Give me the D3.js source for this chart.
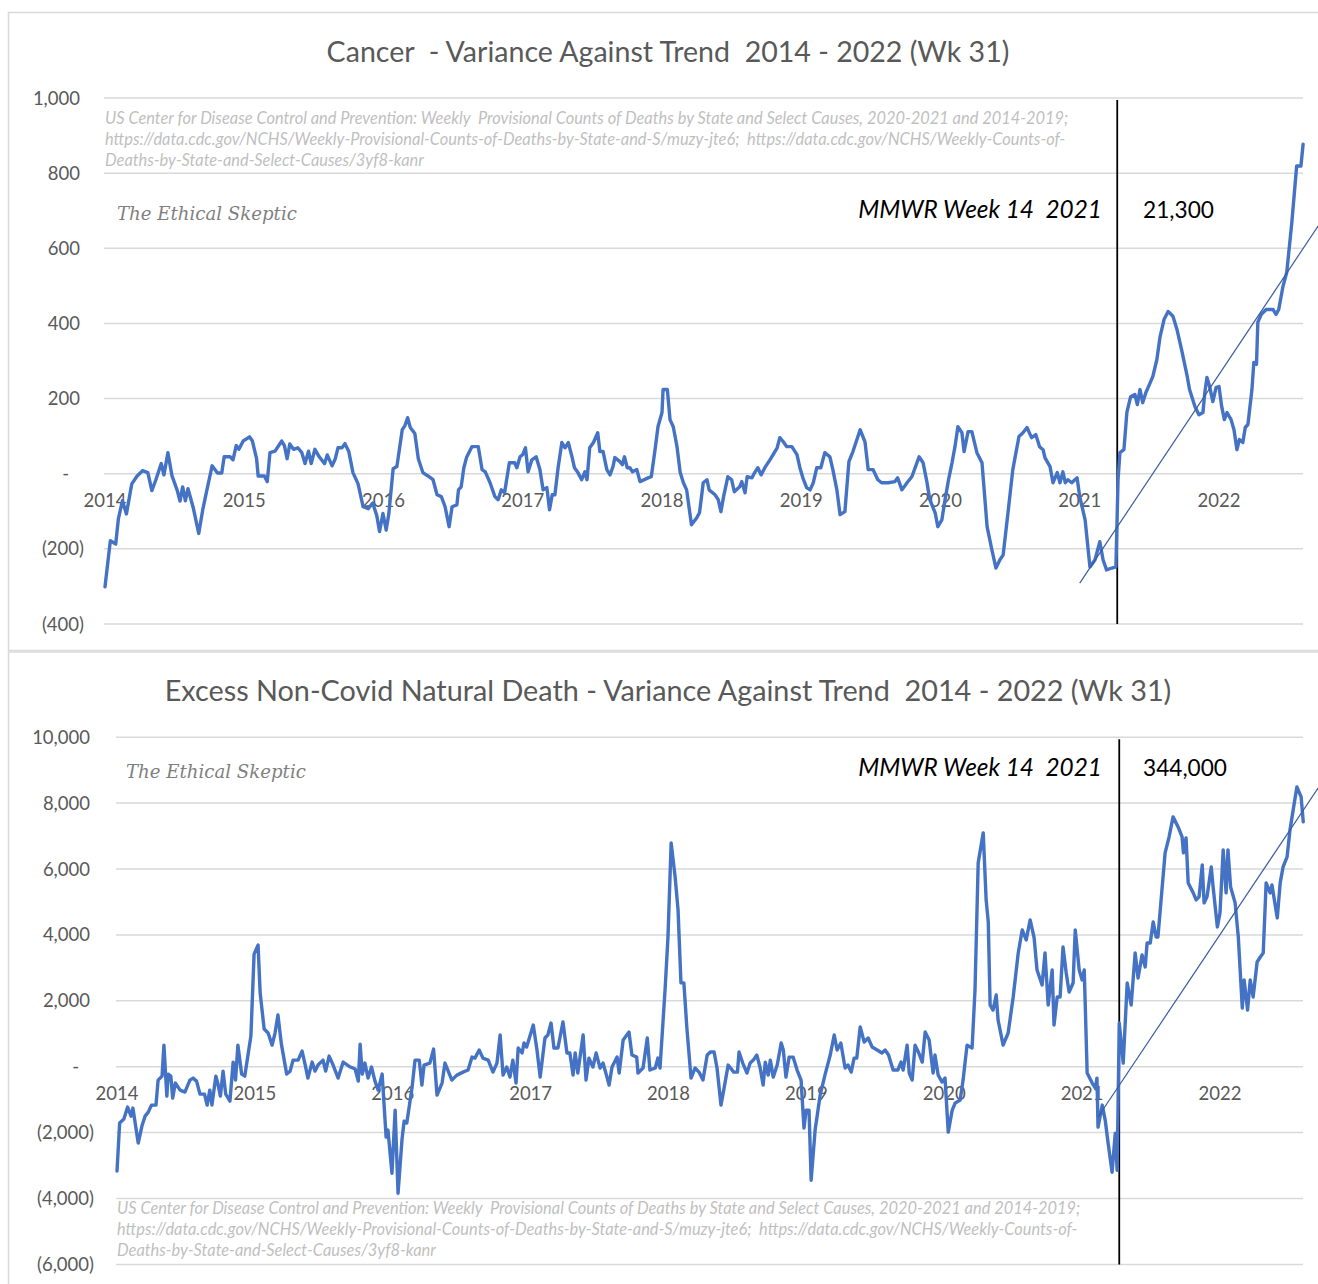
<!DOCTYPE html>
<html><head><meta charset="utf-8">
<script src="https://cdn.jsdelivr.net/npm/d3@7"></script>
<style>html,body{margin:0;padding:0;background:#fff;overflow:hidden} text{white-space:pre}</style>
</head><body>
<svg id="c" width="1318" height="1284"></svg>
<script>
// ---------- DATA ----------
const yearLabels = ["2014","2015","2016","2017","2018","2019","2020","2021","2022"];
const yearWeeks = [0,52,104,156,208,260,312,364,416];

const cancerTicks = [1000,800,600,400,200,0,-200,-400];
const excessTicks = [10000,8000,6000,4000,2000,0,-2000,-4000,-6000];

const markerWeek = 378; // MMWR week 14 2021

const cancerWeeks = [0,2,4,5,6.5,8,10,12,14,16,17.5,19,21,22,23.5,25,27,28,29,30,31,33,35,36.6,38,40,42,43.6,44.5,46.7,47.8,49,50,51.6,54,55,56.6,57.2,58.5,59.5,60.6,61.6,63.5,66,67,68,69,70.4,72,73.5,74.7,76,77,78.4,80,82,83,84.8,86,87,88.5,89.6,91,92.6,94.5,96.4,98.3,100,101.5,102.5,103.8,105,106,107.6,109,111,112,113,114,115.7,117,118.7,120.6,122.5,124,125.6,127,128.5,129.6,131.4,132,133,134,135,137,139.4,140.8,142,143.8,145.6,146.8,148,149.2,151,153,153.8,155,156,157,158,159.4,161,162.4,163.6,165,166,167,168,169.2,170.6,171.8,173,174.4,175.3,176.6,178,179.2,180,181,182.4,184,184.8,186,187.4,188.6,189.7,190.4,192.3,193.2,194,195,196,197,198.6,199.8,202.8,204,205.4,206.5,208,208.4,210,211,212.2,213.6,214.8,216,217.2,219,221,222,223.4,224.8,225.6,227.8,229,230,231,232.6,234,235,237,237.8,239,239.8,241.6,242.6,243.8,245,246.4,248.3,249.5,251,252,253.3,254.6,256.5,258.4,259.5,260.6,262,263.3,264.5,265.8,267.3,268.8,270.7,271.8,273.3,274.5,276.3,277.8,279.3,282,283.8,285,286.8,288.6,290,292.4,295,296,297.6,299.5,301.3,304,305.5,306.9,308,310,311,312.5,313.7,315,316.3,317.4,318.5,320,320.8,322.3,323.7,325.6,327.5,329.4,331.2,332.7,334.2,335.4,337.2,339,341.3,342.8,344.3,346,347.6,349,350.3,351,352.9,354,355.6,356.6,357.7,358.6,359.6,361,363,364,366,367.8,369.7,371.5,372.7,374,376,377.5,378.3,379,380.5,381.6,383,384.6,385.5,386.5,387.5,388.7,390,391.3,392.8,394,395.5,397,398.8,400.3,402,404,405,407,408.5,410,410.7,411.5,412.5,413.7,414.9,416,417,418,419,420.5,421.6,422.7,423.6,424.9,425.8,426.8,428.3,429,430,430.5,431.8,433.6,436.2,437.3,438.3,439.9,441.3,443.2,445,446.6,447.4];
const cancerValues = [-301,-178,-187,-120,-72,-107,-27,-6,8,3,-45,-16,27,-3,56,-5,-45,-73,-35,-72,-40,-92,-159,-92,-45,21,2,2,45,45,37,75,65,87,98,88,40,-6,-6,-6,-21,56,60,87,75,40,79,65,69,56,27,60,27,65,45,27,50,21,40,69,69,80,60,3,-27,-88,-93,-78,-112,-154,-106,-150,-106,13,19,117,128,149,123,107,40,3,-6,-16,-56,-61,-88,-141,-88,-83,-43,-35,16,43,72,72,11,5,-24,-61,-69,-43,-51,29,29,16,45,51,69,5,37,45,11,-43,-37,-96,-56,-56,16,83,69,83,45,16,3,-16,5,-16,69,83,109,59,59,11,-3,19,43,32,24,45,16,16,5,11,-21,-11,-8,64,125,163,224,224,144,125,72,3,-24,-43,-136,-117,-104,-24,-16,-43,-56,-69,-101,-61,-8,-16,-48,-35,-21,-51,-8,-11,3,16,-3,16,37,51,69,96,85,72,72,51,16,-11,-37,-43,-24,16,16,56,45,11,-43,-109,-101,32,59,117,85,11,11,-16,-24,-24,-21,-11,-43,-24,-8,45,29,-21,-69,-104,-141,-123,-69,-16,29,72,125,109,59,112,112,56,29,-141,-203,-251,-229,-216,-104,11,99,109,123,96,104,72,64,43,19,-24,3,-24,5,-24,-16,-24,-11,-61,-123,-248,-229,-181,-229,-256,-251,-248,-16,56,64,163,205,211,184,224,189,216,237,259,304,365,411,432,419,384,331,264,224,179,157,163,216,256,232,192,229,232,179,144,163,144,117,64,91,83,123,131,224,296,291,403,424,437,437,424,437,499,536,669,819,819,877];

const excessWeeks = [0,1,2.6,4,5.3,6,8,9.4,10.6,11.8,13,14.7,15.5,17,17.7,18.8,19.3,20.3,21,22,23.8,25.6,27.5,28.7,30,31.3,33,34,35,35.8,37.3,38,39,40,41,42.6,43.8,44.7,45.6,47,48.2,50.5,51.7,53.2,54,55.5,57,58.5,59.6,60.7,62,64,65.3,66.4,68.3,69.8,71,72,73.6,74.7,75.8,77.7,78.7,80,81.5,83.4,85.3,88,89.8,91,91.7,92.5,93.5,94.7,96,97.3,98.5,100,101.5,102.2,103.7,104.9,106,107.5,108.3,109.3,111.3,112.4,114,115,115.8,118,119.4,120.7,122.6,123.7,126.3,128.2,130.5,132.4,133.9,135,136.6,138,140,141.8,143.3,144.5,145.6,147,148.2,149.3,150.5,151.3,152.8,153.5,154.5,157,158.4,159.6,161.4,162.5,163.7,164.8,166.3,168.2,169.7,170.8,172,172.8,173.8,175.8,176.9,178,179.5,180.7,182.2,183.3,184.8,185.6,186.7,188.6,189.4,190.9,193.1,194.2,196,196.5,198.4,200,201,203,204,204.8,206.7,207.8,209,210.5,211.6,212.7,213.8,214.9,216.5,218,219.5,221,222.6,223.8,225.2,226.3,227.8,229.3,230.5,232.6,234,234.6,236,237.6,238.8,240,241.3,242.5,243.7,244.5,245.6,246.4,247.5,249,250.5,251.3,252.3,253.5,255,256.5,258,259.1,259.9,261,261.8,263.3,265.2,267,269,270.5,271.6,273,274.6,275.7,276.9,278,279,280.3,281.8,283.3,284.8,286.7,288.5,289.7,291,292.7,294.5,295.7,296.5,298,298.8,299.9,301,302.4,303.7,304.8,306.3,307.8,308.5,309.7,311.2,312.3,313.5,315,316.1,318,319.1,320.6,322.5,323.6,324.8,326.7,327.8,328.6,329.3,330.4,331.6,332.3,334.2,336.1,338,339.9,341.4,342.9,344.4,345.9,347,348.9,350,351.2,352.7,353.4,354.6,355.7,356.8,358,359.1,360.6,361.4,362.9,364,364.8,365.9,367.8,369,369.6,370,371.6,372.7,373.8,375.3,376.5,377.2,378,379.5,381,382.5,384,385.1,386.6,387.8,388.5,389.7,390.8,391.9,392.6,394.2,395.3,396.8,398.3,400.2,401.7,402.2,403.2,404,405.9,407,408.1,409.3,410,411.1,412.7,413.4,415,416,417.2,418.3,419,420,421.7,422.9,424.4,425.1,426.4,427.4,428.5,430,431.2,432.3,433.4,434.9,435.6,437.6,438.7,439.8,441.3,442.4,443.6,445,446.6,447.4];
const excessValues = [-3165,-1710,-1590,-1226,-1500,-1256,-2318,-1802,-1500,-1378,-1165,-1165,-406,-285,655,-892,-224,-285,-953,-497,-710,-770,-406,-346,-437,-832,-832,-1165,-710,-1165,-285,-497,-892,-134,-832,-1044,140,-406,655,-224,-285,930,3418,3691,2234,1143,1022,655,1022,1568,686,-224,-134,200,200,473,50,-346,140,-134,50,200,-134,322,50,-346,140,-10,-70,-437,686,-224,110,-346,-10,-437,-710,-224,-2136,-1924,-3232,-1317,-3839,-2197,-1650,-1710,-619,200,200,-558,50,110,534,-862,-497,110,-406,-255,-164,-101,292,261,506,261,200,-164,110,961,-255,-10,-316,200,-497,567,415,718,597,1265,506,-316,870,961,1325,567,567,1356,415,415,-255,415,-194,961,-406,261,-10,415,-40,110,-316,-558,-10,292,-194,809,1052,354,292,-194,-40,870,-101,-40,261,-40,2328,3934,6793,5760,4758,2543,2543,1205,-346,-40,-164,-406,354,445,445,-40,-1165,-497,50,-164,-164,445,110,-194,110,200,354,-10,-558,140,-255,200,-316,50,718,506,-316,292,292,-101,-406,-1865,-1317,-1317,-3444,-1924,-862,-255,354,961,506,718,-40,50,-164,261,261,1205,748,870,597,506,415,506,354,-101,-101,140,-101,655,-194,-406,655,415,140,1052,809,-194,354,-255,-467,-346,-1985,-1317,-1105,-1013,-406,655,567,2328,6186,7097,5063,4395,1872,1720,2176,1417,655,1022,2116,3452,4151,3846,4454,3907,2935,2480,3452,1872,2935,1265,2116,2116,3634,2844,2268,2540,4151,2935,2632,2935,-194,-497,-649,-346,-1834,-1165,-1620,-2318,-3202,-2015,-3141,1326,110,2540,1872,3452,2692,3391,3027,3755,3755,4395,3938,3938,5456,6489,6975,7582,7278,6975,6489,6945,5578,5275,5063,5154,6125,4971,5154,6064,5456,4242,4667,6580,5275,6580,5456,4971,3938,1781,2632,1720,2632,2116,3178,3330,3452,5578,5275,5517,4515,5578,6064,6368,7187,7794,8491,8188,7430];

const cancerTrendWeeks = [364, 453];
const cancerTrendValues = [-291, 659];
const excessTrendWeeks = [370, 453];
const excessTrendValues = [-1527, 8458];

const sourceLines = [
  "US Center for Disease Control and Prevention: Weekly  Provisional Counts of Deaths by State and Select Causes, 2020-2021 and 2014-2019;",
  "https://data.cdc.gov/NCHS/Weekly-Provisional-Counts-of-Deaths-by-State-and-S/muzy-jte6;  https://data.cdc.gov/NCHS/Weekly-Counts-of-",
  "Deaths-by-State-and-Select-Causes/3yf8-kanr"
];

// ---------- DRAW ----------
const svg = d3.select("#c");
const FONT = "Lato, 'Open Sans', sans-serif";
const GRID = "#d9d9d9";
const TXT = "#595959";
const BLUE = "#4472c4";

function fit(t, target) {
  const fs = parseFloat(t.attr("font-size"));
  const L = t.node().getComputedTextLength();
  if (L > 0) t.attr("font-size", fs * target / L);
  return t;
}

// frames
svg.append("rect").attr("x", 8.5).attr("y", 12.5).attr("width", 1400).attr("height", 638)
  .attr("fill", "none").attr("stroke", GRID).attr("stroke-width", 1.5);
svg.append("rect").attr("x", 8.5).attr("y", 652).attr("width", 1400).attr("height", 700)
  .attr("fill", "none").attr("stroke", GRID).attr("stroke-width", 1.5);

function panel(cfg) {
  const g = svg.append("g");
  const x = d3.scaleLinear().domain([0, 416]).range(cfg.xRange);
  const y = d3.scaleLinear().domain(cfg.yDomain).range(cfg.yRange);
  const gridX0 = cfg.xRange[0] - 1, gridX1 = 1303;

  // gridlines
  g.selectAll("line.grid").data(cfg.ticks).join("line")
    .attr("x1", gridX0).attr("x2", gridX1)
    .attr("y1", d => y(d)).attr("y2", d => y(d))
    .attr("stroke", GRID).attr("stroke-width", 1.5);

  // y labels
  g.selectAll("text.yl").data(cfg.ticks).join("text")
    .attr("x", d => d > 0 ? cfg.labelX : d < 0 ? cfg.labelX + 4 : cfg.labelX - 11)
    .attr("y", d => y(d) + 6.5)
    .attr("text-anchor", "end")
    .attr("font-family", FONT).attr("font-size", 18.5).attr("fill", TXT)
    .text(d => d === 0 ? "-" : d < 0 ? "(" + d3.format(",")(-d) + ")" : d3.format(",")(d));

  // x labels
  g.selectAll("text.xl").data(yearLabels).join("text")
    .attr("x", (d, i) => x(yearWeeks[i]))
    .attr("y", y(0) + 33)
    .attr("text-anchor", "middle")
    .attr("font-family", FONT).attr("font-size", 18.5).attr("fill", TXT)
    .text(d => d);

  // title
  fit(g.append("text").attr("x", 668).attr("y", cfg.titleY).attr("text-anchor", "middle")
    .attr("font-family", FONT).attr("font-size", 26).attr("fill", TXT).text(cfg.title), cfg.titleW);

  // source text
  let srcFs = 14;
  sourceLines.forEach((s, i) => {
    const t = g.append("text").attr("x", cfg.xRange[0]).attr("y", cfg.srcY + i * 21)
      .attr("font-family", FONT).attr("font-style", "italic").attr("font-size", 14)
      .attr("fill", "#bfbfbf").text(s);
    if (i === 0) { fit(t, cfg.srcW); srcFs = parseFloat(t.attr("font-size")); }
    else t.attr("font-size", srcFs);
  });

  // watermark
  fit(g.append("text").attr("x", cfg.wmX).attr("y", cfg.wmY)
    .attr("font-family", "'DejaVu Serif', serif").attr("font-style", "italic")
    .attr("font-size", 20).attr("fill", "#7f7f7f").text("The Ethical Skeptic"), 180);

  // annotation
  fit(g.append("text").attr("x", 1102).attr("y", cfg.annY).attr("text-anchor", "end")
    .attr("font-family", FONT).attr("font-style", "italic").attr("font-size", 22)
    .attr("fill", "#000").text("MMWR Week 14  2021"), 244);
  fit(g.append("text").attr("x", 1143).attr("y", cfg.annY)
    .attr("font-family", FONT).attr("font-size", 22)
    .attr("fill", "#000").text(cfg.total), cfg.totalW);

  // vertical marker
  g.append("line").attr("x1", x(markerWeek)).attr("x2", x(markerWeek))
    .attr("y1", y(cfg.yDomain[1]) + 2).attr("y2", y(cfg.yDomain[0]))
    .attr("stroke", "#000").attr("stroke-width", 1.8);

  // series
  const line = d3.line().x(d => x(d[0])).y(d => y(d[1]));
  g.append("path").datum(cfg.weeks.map((w, i) => [w, cfg.values[i]]))
    .attr("d", line).attr("fill", "none").attr("stroke", BLUE)
    .attr("stroke-width", 3.4).attr("stroke-linejoin", "round").attr("stroke-linecap", "round");

  // trend
  g.append("path").datum(cfg.trendW.map((w, i) => [w, cfg.trendV[i]]))
    .attr("d", line).attr("fill", "none").attr("stroke", "#3b5c9e").attr("stroke-width", 1.2);
}

panel({
  xRange: [105, 1219], yDomain: [-400, 1000], yRange: [624, 98],
  ticks: cancerTicks, labelX: 80,
  title: "Cancer  - Variance Against Trend  2014 - 2022 (Wk 31)", titleY: 62, titleW: 683,
  srcY: 124, srcW: 964, wmX: 117, wmY: 220, annY: 218, total: "21,300", totalW: 71,
  weeks: cancerWeeks, values: cancerValues, trendW: cancerTrendWeeks, trendV: cancerTrendValues
});

panel({
  xRange: [117, 1220], yDomain: [-6000, 10000], yRange: [1264.4, 737.2],
  ticks: excessTicks, labelX: 90,
  title: "Excess Non-Covid Natural Death - Variance Against Trend  2014 - 2022 (Wk 31)", titleY: 701, titleW: 1007,
  srcY: 1214, srcW: 964, wmX: 126, wmY: 778, annY: 776, total: "344,000", totalW: 84,
  weeks: excessWeeks, values: excessValues, trendW: excessTrendWeeks, trendV: excessTrendValues
});
</script>
</body></html>
